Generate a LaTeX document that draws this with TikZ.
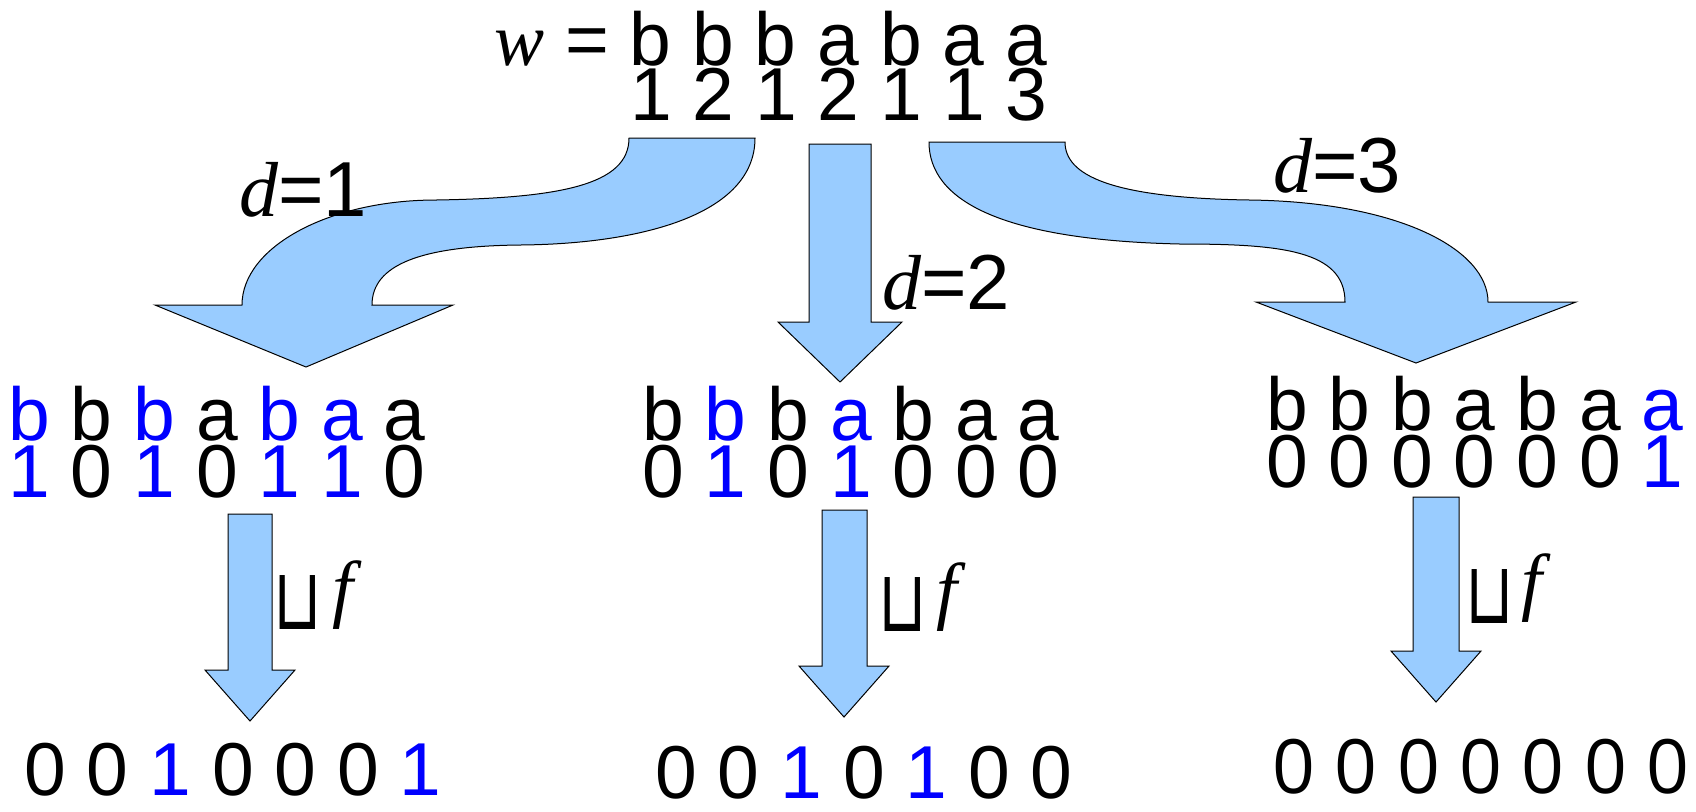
\documentclass[tikz,border=0pt]{standalone}
\usepackage{fontspec}
\usepackage{graphicx}
\setmainfont{Liberation Sans}
\newfontfamily\tms{Liberation Serif}
\newfontfamily\djv{DejaVu Sans}
\newfontfamily\osans{Open Sans}
\definecolor{arrowfill}{RGB}{153,204,255}
\definecolor{hl}{RGB}{0,0,255}
\newcommand\B[1]{\textcolor{hl}{#1}}
\newcommand\cupsym{\scalebox{0.83}[1.15]{⊔}}
\begin{document}
\begin{tikzpicture}[x=0.5pt,y=-0.5pt,
  txt/.style={anchor=base west, inner sep=0pt, font=\fontsize{37.5}{45}\selectfont},
  dlab/.style={anchor=base west, inner sep=0pt, font=\fontsize{39}{47}\selectfont},
  cup/.style={inner sep=0pt, font=\djv\fontsize{37.5}{45}\selectfont},
  blockarrow/.style={fill=arrowfill, draw=black, line width=0.5pt, line join=miter}]
\useasboundingbox (0,0) rectangle (1696,811);

% curved arrow d=1
\draw[blockarrow] (629,138) -- (755,138)
  .. controls (755,215) and (640,244) .. (520,245)
  .. controls (420,246) and (372,265) .. (372,305)
  -- (453,305) -- (306,367) -- (155,305) -- (242,305)
  .. controls (242,247) and (329,200) .. (436,200)
  .. controls (560,198) and (629,185) .. (629,138) -- cycle;
% straight arrow d=2
\draw[blockarrow] (809,144) -- (871,144) -- (871,322) -- (902,322) -- (840,382) -- (778,322) -- (809,322) -- cycle;
% curved arrow d=3
\draw[blockarrow] (929,142) -- (1065,142)
  .. controls (1065,175) and (1110,198) .. (1250,200)
  .. controls (1400,202) and (1488,250) .. (1488,302)
  -- (1576,302) -- (1416,363) -- (1256,302) -- (1345,302)
  .. controls (1345,250) and (1280,244) .. (1180,244)
  .. controls (1000,240) and (929,200) .. (929,142) -- cycle;
% bottom arrows
\draw[blockarrow] (228,514) -- (272,514) -- (272,670) -- (295,670) -- (250,721) -- (205,670) -- (228,670) -- cycle;
\draw[blockarrow] (822,510) -- (867,510) -- (867,666) -- (889,666) -- (844,717) -- (799,666) -- (822,666) -- cycle;
\draw[blockarrow] (1413,497) -- (1459,497) -- (1459,651) -- (1481,651) -- (1436,702) -- (1391,651) -- (1413,651) -- cycle;

% top word
\node[txt] (w) at (494,65) {{\tms\itshape w} = b b b a b a a};
\node[txt] (wn) at (630,120) {1 2 1 2 1 1 3};

% labels
\node[dlab] (d1) at (239,216) {{\tms\itshape d}=1};
\node[dlab] (d2) at (882,309) {{\tms\itshape d}=2};
\node[dlab] (d3) at (1273,192) {{\tms\itshape d}=3};

% middle rows
\node[txt] (l1) at (8,440) {\B{b} b \B{b} a \B{b} \B{a} a};
\node[txt] (l2) at (8,497) {\B{1} 0 \B{1} 0 \B{1} \B{1} 0};
\node[txt] (m1) at (642,440) {b \B{b} b \B{a} b a a};
\node[txt] (m2) at (642,497) {0 \B{1} 0 \B{1} 0 0 0};
\node[txt] (r1) at (1266,430) {b b b a b a \B{a}};
\node[txt] (r2) at (1266,487) {0 0 0 0 0 0 \B{1}};

% sqcup f labels
\node[cup] (c1) at (298,602.5) {\cupsym};
\node[txt] (f1) at (332,613) {\tms\itshape f};
\node[cup] (c2) at (903,604.5) {\cupsym};
\node[txt] (f2) at (936,615) {\tms\itshape f};
\node[cup] (c3) at (1490,596) {\cupsym};
\node[txt] (f3) at (1521,606) {\tms\itshape f};

% bottom rows
\node[txt] (lb) at (24,795) {0 0 \B{1} 0 0 0 \B{1}};
\node[txt] (mb) at (655,798) {0 0 \B{1} 0 \B{1} 0 0};
\node[txt, font=\osans\fontsize{37.5}{45}\selectfont] (rb) at (1272,793) {0 0 0 0 0 0 0};
\end{tikzpicture}
\end{document}
